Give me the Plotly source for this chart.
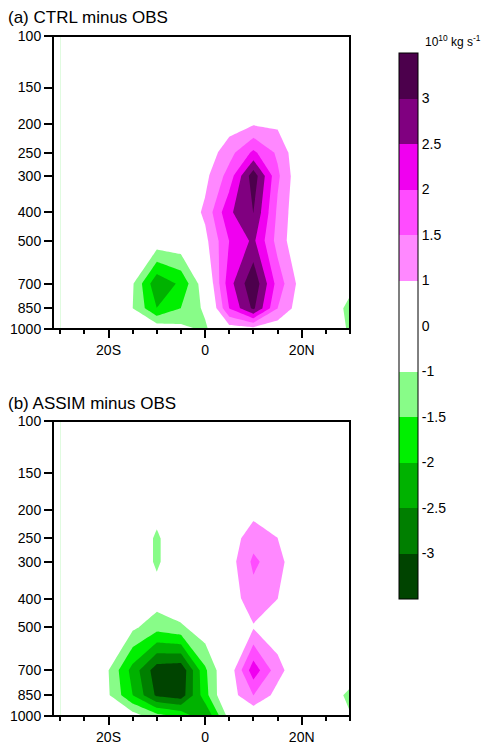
import numpy as np
import plotly.graph_objects as go

lats = [-30, -25, -20, -15, -10, -5, 0, 5, 10, 15, 20, 25, 30]
levels = [100, 150, 200, 250, 300, 400, 500, 700, 850, 1000]

# panel (a) CTRL minus OBS, 1e10 kg/s, rows = levels
ctrl = [
    [0, 0, 0, 0, 0, 0, 0, 0, 0, 0, 0, 0, 0],
    [0, 0, 0, 0, 0, 0, 0, 0, 0, 0, 0, 0, 0],
    [0, 0, 0, 0, 0, 0, 0, 0.5, 0.9, 0.8, 0, 0, 0],
    [0, 0, 0, 0, 0, 0, 0.3, 1.3, 2.1, 1.4, 0, 0, 0],
    [0, 0, 0, 0, 0, 0, 0.7, 1.7, 3.3, 1.6, 0, 0, 0],
    [0, 0, 0, 0, 0, 0, 1.1, 2.4, 3.0, 1.4, 0, 0, 0],
    [0, 0, 0, 0, -0.3, -0.2, 0.7, 2.0, 2.6, 1.3, 0, 0, 0],
    [0, 0, 0, -0.9, -2.4, -1.9, -0.3, 2.3, 3.4, 1.8, 0.5, 0, -0.6],
    [0, 0, 0, -1.0, -2.0, -1.5, -0.8, 2.0, 3.1, 1.5, 0.3, 0, -1.2],
    [0, 0, 0, 0, -0.3, -0.7, -1.1, 0.5, 0.6, 0.3, 0, 0, -1.1],
]

# panel (b) ASSIM minus OBS
assim = [
    [0, 0, 0, 0, 0, 0, 0, 0, 0, 0, 0, 0, 0],
    [0, 0, 0, 0, 0, 0, 0, 0, 0, 0, 0, 0, 0],
    [0, 0, 0, 0, -0.6, 0, 0, 0, 0.6, 0.5, 0, 0, 0],
    [0, 0, 0, 0, -1.1, 0, 0, 0.4, 1.3, 1.0, 0, 0, 0],
    [0, 0, 0, 0, -1.1, 0, 0, 0.5, 1.6, 1.2, 0, 0, 0],
    [0, 0, 0, 0, -0.5, 0, 0, 0.4, 1.3, 1.0, 0, 0, 0],
    [0, 0, 0, -0.8, -1.3, -1.1, -0.3, 0.2, 0.9, 0.3, 0, 0, 0],
    [0, 0, -1.0, -2.2, -3.3, -3.4, -1.6, 0.3, 2.3, 1.2, 0, 0, 0],
    [0, 0, -0.9, -2.0, -3.1, -3.3, -1.7, 0.4, 1.5, 0.6, 0, 0, -1.2],
    [0, 0, 0, -0.5, -1.3, -1.6, -2.5, -0.6, 0, 0, 0, 0, -0.9],
]

bounds = [-3.5, -3, -2.5, -2, -1.5, -1, 0, 1, 1.5, 2, 2.5, 3, 3.5]
bin_labels = ["-3", "-2.5", "-2", "-1.5", "-1", "0", "1", "1.5", "2", "2.5", "3"]
colors = ["#004400", "#007f00", "#00b200", "#00f000", "#88fc88", "#ffffff",
          "#ffffff", "#ff88ff", "#ff4cff", "#f000f0", "#800080", "#4c004c"]

# equal-height bins: map values onto bin index space
idx = list(range(len(bounds)))
scale = []
for i, c in enumerate(colors):
    scale.append([i / len(colors), c])
    scale.append([(i + 1) / len(colors), c])

W, H = 500, 755
OFF = 7  # page offset of the plot div


def px_x(p):
    return (p - OFF) / W


def px_y(p):
    return 1 - (p - OFF) / H


fig = go.Figure()
domains = [(px_y(328), px_y(35)), (px_y(715), px_y(420))]
title_y = [16, 403]
axnames = [("x", "y"), ("x2", "y2")]
for k, (z, title) in enumerate([(ctrl, "(a) CTRL minus OBS"), (assim, "(b) ASSIM minus OBS")]):
    xa, ya = axnames[k]
    zi = np.interp(np.array(z, dtype=float), bounds, idx) + 0.01
    fig.add_trace(go.Contour(
        x=lats, y=levels, z=zi, xaxis=xa, yaxis=ya,
        zmin=0, zmax=12, colorscale=scale,
        contours=dict(start=1, end=11, size=1, coloring="fill"),
        line=dict(width=0, smoothing=0), showscale=(k == 0),
        colorbar=dict(
            x=px_x(398), xanchor="left", xpad=0, ypad=0,
            y=px_y(52), yanchor="top", lenmode="pixels", len=546, thickness=19,
            tickvals=list(range(1, 12)), ticktext=bin_labels, ticks="",
            outlinecolor="black", outlinewidth=1,
            tickfont=dict(size=14, color="black"),
        ),
        hoverinfo="skip",
    ))
    fig.add_annotation(text=title, xref="paper", yref="paper", x=px_x(5),
                       y=px_y(title_y[k]), xanchor="left", yanchor="middle",
                       showarrow=False, font=dict(size=17, color="black"))
    # panel frame
    fig.add_shape(type="rect", xref=f"{xa} domain", yref=f"{ya} domain",
                  x0=0, x1=1, y0=0, y1=1, line=dict(color="black", width=2),
                  layer="above")

fig.add_annotation(text="10<sup>10</sup> kg s<sup>-1</sup>", xref="paper", yref="paper",
                   x=px_x(422), y=px_y(50), xanchor="left", yanchor="bottom",
                   showarrow=False, font=dict(size=12, color="black"))

axis_common = dict(showline=False, ticks="outside", tickcolor="black", tickwidth=1.5,
                   showgrid=False, zeroline=False, automargin=False,
                   tickfont=dict(size=14, color="black"))
layout = dict(width=W, height=H, margin=dict(l=0, r=0, t=0, b=0, autoexpand=False),
              plot_bgcolor="white", paper_bgcolor="white",
              font=dict(family="Liberation Sans, Arial", color="black"), showlegend=False)
for k in range(2):
    s = "" if k == 0 else "2"
    xa, ya = axnames[k]
    layout[f"xaxis{s}"] = dict(axis_common, domain=[px_x(52), px_x(349)], range=[-31.5, 30],
                               tickvals=[-20, 0, 20], ticktext=["20S", "0", "20N"],
                               ticklen=8, anchor=ya,
                               minor=dict(dtick=5, tick0=0, ticks="outside", ticklen=4,
                                          tickcolor="black"))
    layout[f"yaxis{s}"] = dict(axis_common, domain=list(domains[k]), type="log",
                               range=[3, 2], tickvals=levels,
                               ticktext=[str(v) for v in levels], ticklen=8,
                               anchor=xa)
fig.update_layout(**layout)
fig.write_html("out.html")
